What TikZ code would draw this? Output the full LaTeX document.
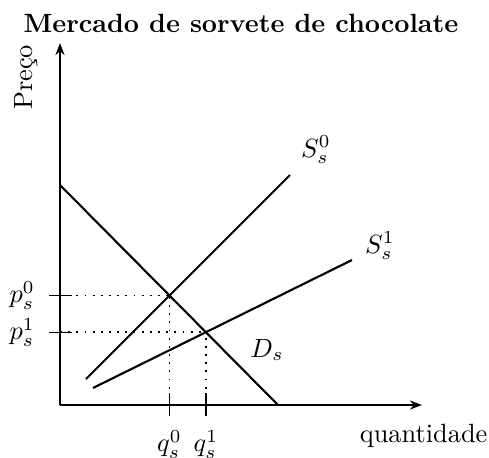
\documentclass[tikz,border=0pt]{standalone}
\usetikzlibrary{arrows.meta}
\begin{document}
\begin{tikzpicture}[x=0.533cm,y=0.533cm,axis/.style={-{Stealth[length=1.6mm,width=1.2mm]},line width=0.8pt},curve/.style={line width=0.8pt},guide/.style={line width=0.7pt,dash pattern=on 0.7pt off 2.4pt},tick/.style={line width=0.5pt}]
\useasboundingbox (-1.5,-1.325) rectangle (10.725,10.125);
\node[font=\bfseries] (title) at (4.525,9.55) {Mercado de sorvete de chocolate};
% axes
\coordinate (o) at (0,0);
\coordinate (ytop) at (0,9.05);
\coordinate (xend) at (9.05,0);
\draw[axis] (o) -- (ytop);
\draw[axis] (o) -- (xend);
\node[rotate=90] (ylab) at (-0.85,8.19) {Preço};
\node (xlab) at (9.09,-0.78) {quantidade};
% demand and supply
\coordinate (d0) at (0,5.5);
\coordinate (d1) at (5.45,0);
\coordinate (sa0) at (0.65,0.65);
\coordinate (sa1) at (5.75,5.75);
\coordinate (sb0) at (0.825,0.425);
\coordinate (sb1) at (7.3,3.625);
\draw[curve] (d0) -- (d1);
\draw[curve] (sa0) -- (sa1);
\draw[curve] (sb0) -- (sb1);
\node (dlab) at (5.175,1.375) {$D_s$};
\node (salab) at (6.4,6.375) {$S_s^0$};
\node (sblab) at (8.0,3.975) {$S_s^1$};
% equilibria
\coordinate (ea) at (2.737,2.737);
\coordinate (eb) at (3.647,1.82);
\coordinate (pa) at (0,2.737);
\coordinate (pb) at (0,1.82);
\coordinate (qa) at (2.737,0);
\coordinate (qb) at (3.647,0);
\draw[guide] (pa) -- (ea);
\draw[guide] (pb) -- (eb);
\draw[guide] (qa) -- (ea);
\draw[guide] (qb) -- (eb);
\draw[tick] ([xshift=-0.28cm*0.533]pa) -- ([xshift=0.3cm*0.533]pa);
\draw[tick] ([xshift=-0.28cm*0.533]pb) -- ([xshift=0.3cm*0.533]pb);
\draw[tick] ([yshift=-0.28cm*0.533]qa) -- ([yshift=0.3cm*0.533]qa);
\draw[tick] ([yshift=-0.28cm*0.533]qb) -- ([yshift=0.3cm*0.533]qb);
\node[anchor=east] (palab) at (-0.4,2.737) {$p_s^0$};
\node[anchor=east] (pblab) at (-0.4,1.82) {$p_s^1$};
\node (qalab) at (2.737,-0.98) {$q_s^0$};
\node (qblab) at (3.647,-0.98) {$q_s^1$};
\end{tikzpicture}
\end{document}
